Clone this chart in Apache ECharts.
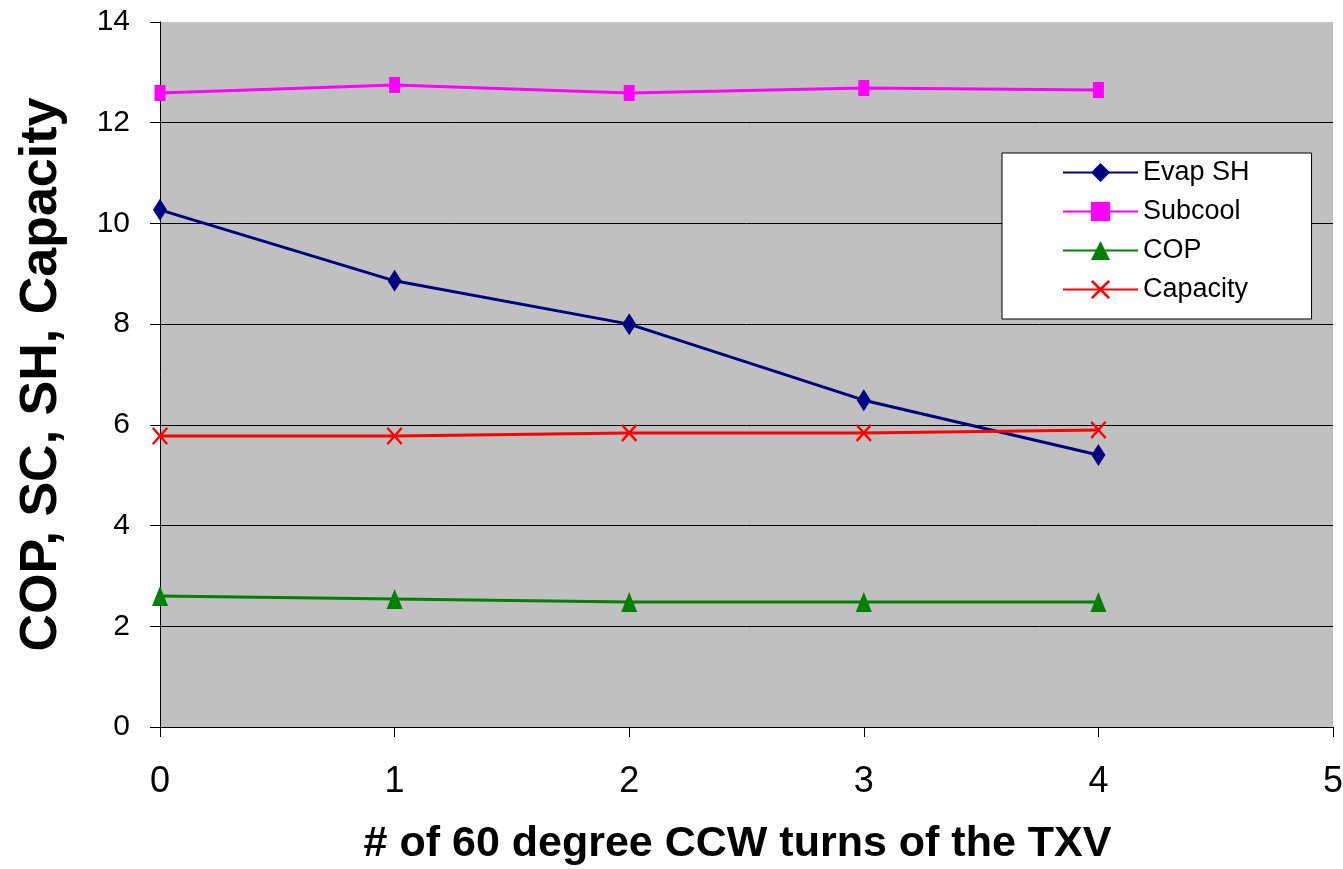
<!DOCTYPE html>
<html>
<head>
<meta charset="utf-8">
<script src="https://cdn.jsdelivr.net/npm/echarts@6/dist/echarts.min.js"></script>
<style>
html, body { margin: 0; padding: 0; background: #fff; }
#main { width: 1343px; height: 869px; }
</style>
</head>
<body>
<div id="main"></div>
<script>
var turns = [0, 1, 2, 3, 4];
var evapSH = [10.27, 8.86, 8.00, 6.49, 5.40];
var subcool = [12.59, 12.75, 12.59, 12.69, 12.65];
var cop = [2.60, 2.54, 2.48, 2.48, 2.48];
var capacity = [5.78, 5.78, 5.84, 5.84, 5.90];

function pairs(vals) {
    return turns.map(function (t, i) { return [t, vals[i]]; });
}

var crossPath = 'path://M0,1L1,0L5,4L9,0L10,1L6,5L10,9L9,10L5,6L1,10L0,9L4,5Z';
var font = "'Liberation Sans', Arial, sans-serif";
var narrow = "'Liberation Sans Narrow', 'Arial Narrow', 'Liberation Sans', Arial, sans-serif";

var myChart = echarts.init(document.getElementById('main'));

option = {
    animation: false,
    grid: {
        left: 160, right: 10, top: 22, bottom: 142,
        outerBoundsMode: 'none',
        show: true, backgroundColor: '#c0c0c0', borderWidth: 0
    },
    legend: {
        left: 1002, top: 153,
        orient: 'vertical',
        backgroundColor: '#fff',
        borderColor: '#000',
        borderWidth: 1,
        padding: [6, 62, 16, 60],
        itemWidth: 75, itemHeight: 24,
        itemGap: 12,
        textStyle: { color: '#000', fontSize: 27, fontFamily: font },
        data: ['Evap SH', 'Subcool', 'COP', 'Capacity']
    },
    xAxis: {
        type: 'value', min: 0, max: 5, interval: 1,
        name: '# of 60 degree CCW turns of the TXV',
        nameLocation: 'middle', nameGap: 96,
        nameTextStyle: { color: '#000', fontSize: 43, fontWeight: 'bold', fontFamily: font, padding: [0, 18, 0, 0] },
        axisLine: { show: true, onZero: false, lineStyle: { color: '#000', width: 1 } },
        axisTick: { show: true, length: 10, lineStyle: { color: '#000' } },
        axisLabel: { color: '#000', fontSize: 36, margin: 37, fontFamily: narrow },
        splitLine: { show: false }
    },
    yAxis: {
        type: 'value', min: 0, max: 14, interval: 2,
        name: 'COP, SC, SH, Capacity',
        nameLocation: 'middle', nameGap: 92,
        nameTextStyle: { color: '#000', fontSize: 52, fontWeight: 'bold', fontFamily: font },
        axisLine: { show: true, lineStyle: { color: '#000', width: 1 } },
        axisTick: { show: true, length: 10, lineStyle: { color: '#000' } },
        axisLabel: { color: '#000', fontSize: 30, margin: 30, fontFamily: font },
        splitLine: {
            show: true,
            lineStyle: { color: ['#000', '#000', '#000', '#000', '#000', '#000', '#000', '#c0c0c0'], width: 1 }
        }
    },
    series: [
        {
            name: 'Evap SH', type: 'line', data: pairs(evapSH),
            symbol: 'diamond', symbolSize: [14, 22],
            lineStyle: { color: '#000080', width: 3 },
            itemStyle: { color: '#000080' }
        },
        {
            name: 'Subcool', type: 'line', data: pairs(subcool),
            symbol: 'rect', symbolSize: [11, 16],
            lineStyle: { color: '#ff00ff', width: 3 },
            itemStyle: { color: '#ff00ff' }
        },
        {
            name: 'COP', type: 'line', data: pairs(cop),
            symbol: 'triangle', symbolSize: [16, 20],
            lineStyle: { color: '#008000', width: 3 },
            itemStyle: { color: '#008000' }
        },
        {
            name: 'Capacity', type: 'line', data: pairs(capacity),
            symbol: crossPath, symbolSize: [16, 18],
            lineStyle: { color: '#ff0000', width: 3 },
            itemStyle: { color: '#ff0000' }
        }
    ]
};

if (option && typeof option === "object") {
    myChart.setOption(option, true);
}
</script>
</body>
</html>
